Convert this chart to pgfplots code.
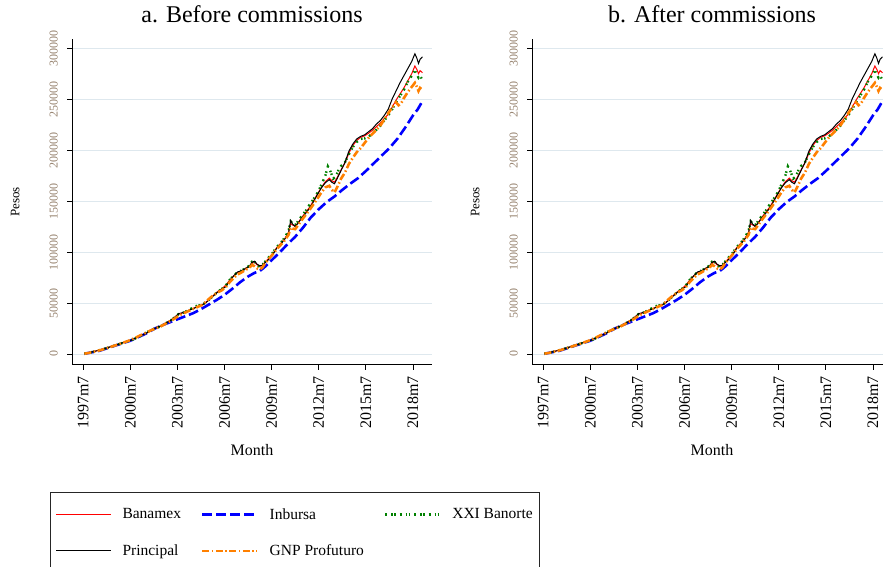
\documentclass[border=0pt]{standalone}
\usepackage{pgfplots}
\usepackage{pgfplotstable}
\pgfplotsset{compat=1.18}
\usepackage{fontspec}
\setmainfont{Liberation Serif}
\definecolor{gridc}{RGB}{222,232,238}
\definecolor{ytc}{RGB}{150,130,110}
\definecolor{sred}{RGB}{255,0,0}
\definecolor{sblue}{RGB}{0,0,255}
\definecolor{sgreen}{RGB}{0,128,0}
\definecolor{sorange}{RGB}{255,128,0}

\pgfplotstableread{
x y
1997.58 300
1997.83 1200
1998.08 2000
1998.33 3000
1998.58 4000
1998.83 5200
1999.08 6300
1999.33 7500
1999.58 8700
1999.83 10000
2000.08 11300
2000.33 12500
2000.58 13600
2000.83 15500
2001.08 17200
2001.33 19000
2001.58 20800
2001.83 23000
2002.08 25200
2002.33 26800
2002.58 28500
2002.83 31000
2003.08 33000
2003.33 36000
2003.58 39500
2003.83 40500
2004.08 41800
2004.33 43500
2004.58 45000
2004.83 46500
2005.08 48000
2005.33 50500
2005.58 54000
2005.83 57500
2006.08 61000
2006.33 63500
2006.58 66000
2006.83 72000
2007.08 76500
2007.33 80500
2007.58 81500
2007.83 84000
2008.08 86000
2008.25 90000
2008.42 91000
2008.58 88000
2008.75 86500
2008.92 87000
2009.08 89500
2009.33 93000
2009.58 97500
2009.83 104000
2010.08 108000
2010.33 112500
2010.58 119000
2010.71 131000
2010.83 127500
2011.00 125000
2011.17 128000
2011.42 133500
2011.67 138000
2011.92 143000
2012.17 149500
2012.42 156500
2012.67 163000
2012.92 168000
2013.17 171000
2013.33 168500
2013.50 167000
2013.67 172000
2013.92 180000
2014.17 188000
2014.42 199000
2014.67 206000
2014.92 211000
2015.17 213500
2015.42 215000
2015.67 218000
2015.92 221000
2016.17 225500
2016.42 229000
2016.67 234000
2016.92 240000
2017.17 250000
2017.42 258000
2017.67 266000
2017.92 273000
2018.17 280000
2018.42 287000
2018.62 294500
2018.75 290000
2018.85 285000
2018.95 289000
2019.10 291500
}\principal

\pgfplotstableread{
x y
1997.58 400
1997.83 1300
1998.08 2100
1998.33 3000
1998.58 4100
1998.83 5300
1999.08 6400
1999.33 7600
1999.58 8800
1999.83 10100
2000.08 11400
2000.33 12500
2000.58 13700
2000.83 15600
2001.08 17300
2001.33 19100
2001.58 21000
2001.83 23200
2002.08 25300
2002.33 26900
2002.58 28600
2002.83 30900
2003.08 33200
2003.33 36200
2003.58 39000
2003.83 40300
2004.08 41900
2004.33 43600
2004.58 45200
2004.83 46800
2005.08 48400
2005.33 51000
2005.58 54500
2005.83 58000
2006.08 61500
2006.33 64000
2006.58 67500
2006.83 72500
2007.08 76500
2007.33 80000
2007.58 81000
2007.83 83500
2008.08 85500
2008.25 89000
2008.42 90000
2008.58 87500
2008.75 86000
2008.92 87000
2009.08 90000
2009.33 94000
2009.58 98500
2009.83 104500
2010.08 108500
2010.33 113000
2010.58 119500
2010.71 128000
2010.83 126500
2011.00 125500
2011.17 128500
2011.42 134000
2011.67 139000
2011.92 144000
2012.17 150500
2012.42 157000
2012.67 163500
2012.92 169000
2013.17 172500
2013.33 170000
2013.50 168500
2013.67 173000
2013.92 180500
2014.17 187500
2014.42 197000
2014.67 204500
2014.92 209500
2015.17 212500
2015.42 214000
2015.67 216500
2015.92 219500
2016.17 223000
2016.42 226500
2016.67 231000
2016.92 235000
2017.17 242000
2017.42 249000
2017.67 255000
2017.92 261000
2018.17 268000
2018.42 275000
2018.62 282500
2018.75 279000
2018.85 275000
2018.95 278000
2019.10 276000
}\banamex

\pgfplotstableread{
x y
1997.58 300
1997.83 1100
1998.08 1900
1998.33 2800
1998.58 3900
1998.83 5000
1999.08 6200
1999.33 7400
1999.58 8600
1999.83 9900
2000.08 11200
2000.33 12400
2000.58 13600
2000.83 15300
2001.08 17200
2001.33 19500
2001.58 21500
2001.83 23500
2002.08 25000
2002.33 26500
2002.58 28300
2002.83 30800
2003.08 33000
2003.33 36000
2003.58 39200
2003.83 40200
2004.08 42000
2004.33 44000
2004.58 46500
2004.83 47500
2005.08 48300
2005.33 50800
2005.58 54200
2005.83 57800
2006.08 61200
2006.33 63800
2006.58 67000
2006.83 72800
2007.08 77000
2007.33 80200
2007.58 81800
2007.83 84000
2008.08 86500
2008.25 90500
2008.42 90000
2008.58 87000
2008.75 85500
2008.92 87500
2009.08 90500
2009.33 95000
2009.58 99500
2009.83 105000
2010.08 109000
2010.33 114000
2010.58 121000
2010.71 130000
2010.83 128000
2011.00 126500
2011.17 130000
2011.42 135500
2011.67 140500
2011.92 146500
2012.17 152000
2012.42 158000
2012.67 166000
2012.92 175000
2013.08 184000
2013.25 179000
2013.42 172000
2013.58 174000
2013.75 180000
2013.92 184500
2014.17 188000
2014.42 196000
2014.67 203000
2014.92 208000
2015.17 211000
2015.42 211500
2015.67 213000
2015.92 216500
2016.17 220000
2016.42 224000
2016.67 229000
2016.92 234000
2017.17 240000
2017.42 247000
2017.67 253000
2017.92 259000
2018.17 267000
2018.42 273000
2018.62 278000
2018.75 274000
2018.85 271000
2018.95 273000
2019.10 269000
}\banorte

\pgfplotstableread{
x y
1997.58 200
1997.83 1000
1998.08 1800
1998.33 2700
1998.58 3700
1998.83 4800
1999.08 6000
1999.33 7300
1999.58 8600
1999.83 9900
2000.08 11200
2000.33 12600
2000.58 14200
2000.83 16000
2001.08 17800
2001.33 19700
2001.58 21500
2001.83 23300
2002.08 24900
2002.33 26400
2002.58 28200
2002.83 30500
2003.08 32500
2003.33 34800
2003.58 37500
2003.83 39500
2004.08 41200
2004.33 43000
2004.58 44700
2004.83 46500
2005.08 48000
2005.33 51500
2005.58 55000
2005.83 58000
2006.08 60500
2006.33 62500
2006.58 65500
2006.83 70500
2007.08 74500
2007.33 78000
2007.58 80000
2007.83 82500
2008.08 84500
2008.25 87500
2008.42 86000
2008.58 84000
2008.75 83000
2008.92 85000
2009.08 89000
2009.33 93500
2009.58 98000
2009.83 103000
2010.08 107000
2010.33 111500
2010.58 117000
2010.71 124000
2010.83 123000
2011.00 122500
2011.17 126000
2011.42 131500
2011.67 136500
2011.92 141500
2012.17 147000
2012.42 152500
2012.67 158500
2012.92 163500
2013.17 165000
2013.33 161000
2013.50 158500
2013.67 163500
2013.92 172000
2014.17 178000
2014.42 186500
2014.67 192500
2014.92 198000
2015.17 202000
2015.42 207000
2015.67 212000
2015.92 216000
2016.17 220000
2016.42 224000
2016.67 230000
2016.92 236000
2017.17 242000
2017.42 247000
2017.58 244000
2017.75 246000
2017.92 251000
2018.17 257000
2018.42 262000
2018.62 266000
2018.75 262000
2018.85 258000
2018.95 261000
2019.10 259000
}\profuturo

\pgfplotstableread{
x y
1997.58 200
1998.00 1500
1998.50 3000
1999.00 5500
1999.50 8000
2000.00 10500
2000.50 13000
2001.00 16500
2001.50 20000
2002.00 24500
2002.50 28000
2003.00 31000
2003.50 34000
2004.00 37000
2004.50 40000
2005.00 44000
2005.50 48500
2006.00 53000
2006.50 58000
2007.00 64000
2007.50 70500
2008.00 76000
2008.40 79500
2008.75 81500
2009.00 84500
2009.50 92000
2010.00 99500
2010.50 107500
2011.00 115000
2011.50 124000
2012.00 134000
2012.50 142000
2013.00 149000
2013.50 154500
2014.00 161000
2014.50 167000
2015.00 172500
2015.50 179500
2016.00 187000
2016.50 194500
2017.00 202000
2017.50 211000
2018.00 222000
2018.50 234000
2018.80 240000
2019.10 248000
}\inbursa

\pgfplotsset{
  stata/.style={
    scale only axis, width=360pt, height=326pt,
    xmin=1996.79, xmax=2019.71, ymin=-10800, ymax=309000,
    axis x line*=bottom, axis y line*=left,
    axis line style={line width=1pt, black, -},
    tick align=outside, major tick length=5pt,
    tick style={black, line width=0.8pt},
    scaled y ticks=false, scaled x ticks=false,
    xtick={1997.5,2000.5,2003.5,2006.5,2009.5,2012.5,2015.5,2018.5},
    xticklabels={1997m7,2000m7,2003m7,2006m7,2009m7,2012m7,2015m7,2018m7},
    ytick={0,50000,100000,150000,200000,250000,300000},
    yticklabels={0,50000,100000,150000,200000,250000,300000},
    ymajorgrids, grid style={color=gridc, line width=0.9pt},
    xticklabel shift=6pt, yticklabel shift=9pt,
    xticklabel style={rotate=90, anchor=east, inner sep=0pt, font=\fontsize{16}{16}\selectfont},
    yticklabel style={rotate=90, anchor=south, inner sep=0pt, font=\fontsize{12}{12}\selectfont, text=ytc},
    xlabel={Month}, ylabel={Pesos},
    xlabel style={at={(axis description cs:0.5,-0.2607)}, anchor=center, font=\fontsize{16}{16}\selectfont},
    ylabel style={at={(axis description cs:-0.158,0.5)}, anchor=center, font=\fontsize{13}{13}\selectfont},
    title style={at={(axis description cs:0.5,1.058)}, anchor=center, font=\fontsize{24}{24}\selectfont},
    legend image code/.code={\draw[##1] (0pt,0pt) -- (55pt,0pt);},
  },
  sbanamex/.style={color=sred, draw=sred, line width=1pt},
  sinbursa/.style={color=sblue, draw=sblue, line width=2.6pt, dash pattern=on 10pt off 4pt},
  sbanorte/.style={color=sgreen, draw=sgreen, line width=2.4pt, dash pattern=on 2pt off 4pt on 1.5pt off 1.5pt on 1.5pt off 4pt},
  sprincipal/.style={color=black, draw=black, line width=1pt},
  sprofuturo/.style={color=sorange, draw=sorange, line width=2.6pt, dash pattern=on 7pt off 2.5pt on 1.5pt off 2.5pt},
}

\begin{document}
\begin{tikzpicture}
\path[use as bounding box] (0pt,0pt) rectangle (883pt,567pt);
\clip (0pt,0pt) rectangle (883pt,567pt);
\begin{axis}[stata, at={(72pt,202pt)}, anchor=south west,
  title={a. Before commissions},
  legend columns=3,
  legend cell align=left,
  legend style={at={(axis description cs:-0.0611,-0.3896)}, anchor=north west,
    draw=black!85, line width=1pt, font=\fontsize{15.5}{15.5}\selectfont,
    inner xsep=5pt, inner ysep=14pt, row sep=20pt,
    /tikz/every even column/.append style={column sep=18pt},
    /tikz/every odd column/.append style={column sep=9pt}},
]
\addplot[sbanamex] table {\banamex};
\addlegendentry{Banamex}
\addplot[sinbursa] table {\inbursa};
\addlegendentry{Inbursa}
\addplot[sbanorte] table {\banorte};
\addlegendentry{XXI Banorte}
\addplot[sprincipal] table {\principal};
\addlegendentry{Principal}
\addplot[sprofuturo] table {\profuturo};
\addlegendentry{GNP Profuturo}
\end{axis}
\begin{axis}[stata, at={(532pt,202pt)}, anchor=south west,
  title={b. After commissions}]
\addplot[sbanamex] table {\banamex};
\addplot[sinbursa] table {\inbursa};
\addplot[sbanorte] table {\banorte};
\addplot[sprincipal] table {\principal};
\addplot[sprofuturo] table {\profuturo};
\end{axis}
\end{tikzpicture}
\end{document}
